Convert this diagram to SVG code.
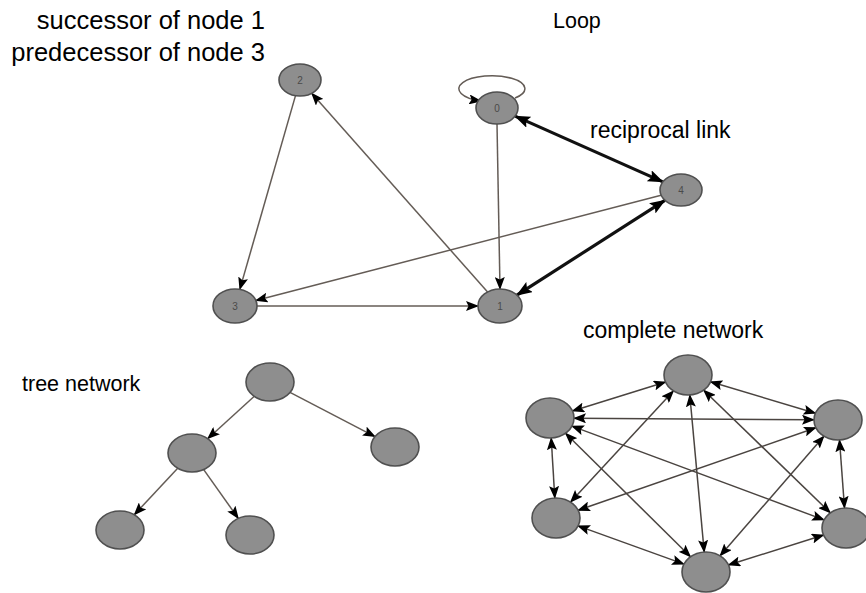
<svg xmlns="http://www.w3.org/2000/svg" width="866" height="593" viewBox="0 0 866 593">
<style>
.lbl{font-family:"Liberation Sans",Arial,sans-serif;font-size:23px;fill:#000}
.big{font-size:25.5px}
.sm{font-size:21.5px}
.nl{font-family:"Liberation Sans",Arial,sans-serif;font-size:10px;fill:#4a4a4a;text-anchor:middle}
.node{fill:#8e8e8e;stroke:#505050;stroke-width:1.6}
.e{stroke:#645c56;stroke-width:1.5;fill:none;marker-end:url(#ah)}
.b{stroke:#4a4440;stroke-width:1.5;fill:none;marker-end:url(#ah);marker-start:url(#ah)}
.t{stroke:#111;stroke-width:3.2;fill:none;marker-end:url(#ahb);marker-start:url(#ahb)}
</style>
<defs>
<marker id="ah" markerUnits="userSpaceOnUse" markerWidth="13" markerHeight="10" refX="12" refY="5" orient="auto-start-reverse" viewBox="0 0 13 10"><path d="M0,0 L13,5 L0,10 L2.5,5 z" fill="#000"/></marker>
<marker id="ahb" markerUnits="userSpaceOnUse" markerWidth="16" markerHeight="12" refX="15" refY="6" orient="auto-start-reverse" viewBox="0 0 16 12"><path d="M0,0 L16,6 L0,12 L3,6 z" fill="#000"/></marker>
</defs>
<rect width="866" height="593" fill="#fff"/>
<g id="labels">
<text class="lbl big" x="265" y="29" text-anchor="end">successor of node 1</text>
<text class="lbl big" x="265" y="61" text-anchor="end">predecessor of node 3</text>
<text class="lbl sm" x="553" y="28">Loop</text>
<text class="lbl" x="590" y="138">reciprocal link</text>
<text class="lbl" x="583" y="338">complete network</text>
<text class="lbl sm" x="22" y="391">tree network</text>
</g>
<g id="connectors">
<path class="e" d="M515,98 A33,13 0 1 0 481,101"/>
<line class="e" x1="295.5" y1="95.6" x2="239.8" y2="289.4"/>
<line class="e" x1="487.6" y1="292" x2="311.7" y2="93.3"/>
<line class="e" x1="497" y1="124" x2="500" y2="289"/>
<line class="e" x1="257" y1="306" x2="478" y2="306"/>
<line class="e" x1="661.1" y1="195.2" x2="255.8" y2="300.6"/>
<line class="t" x1="515.1" y1="116.1" x2="662.9" y2="181.9"/>
<line class="t" x1="516.9" y1="295.1" x2="664.9" y2="200.3"/>
<line class="e" x1="254.3" y1="396.3" x2="207.7" y2="438.7"/>
<line class="e" x1="290" y1="392.4" x2="375" y2="436.6"/>
<line class="e" x1="177.7" y1="468.3" x2="134.3" y2="514.7"/>
<line class="e" x1="203.7" y1="469.6" x2="238.3" y2="518.4"/>
<line class="b" x1="665.6" y1="382" x2="572.4" y2="411"/>
<line class="b" x1="710.5" y1="381.7" x2="815.5" y2="413.3"/>
<line class="b" x1="673.4" y1="390.9" x2="570.6" y2="502.1"/>
<line class="b" x1="703.7" y1="390.2" x2="830.3" y2="512.8"/>
<line class="b" x1="689.8" y1="395" x2="704.2" y2="552"/>
<line class="b" x1="574" y1="418.2" x2="814" y2="419.8"/>
<line class="b" x1="551.2" y1="438" x2="554.8" y2="498"/>
<line class="b" x1="571.9" y1="426.1" x2="824.1" y2="519.9"/>
<line class="b" x1="565.5" y1="433.3" x2="690.5" y2="556.7"/>
<line class="b" x1="815.9" y1="427.7" x2="578.1" y2="510.3"/>
<line class="b" x1="839.5" y1="440" x2="844.5" y2="508"/>
<line class="b" x1="823.9" y1="436.2" x2="720.1" y2="555.8"/>
<line class="b" x1="578" y1="525.9" x2="684" y2="564.1"/>
<line class="b" x1="823.6" y1="535" x2="728.4" y2="565"/>
</g>
<g id="n0"><ellipse class="node" cx="497" cy="108" rx="21" ry="16"/><text class="nl" x="497" y="112">0</text></g>
<g id="n1"><ellipse class="node" cx="500" cy="306" rx="22" ry="17"/><text class="nl" x="500" y="310">1</text></g>
<g id="n2"><ellipse class="node" cx="300" cy="80" rx="21" ry="16"/><text class="nl" x="300" y="84">2</text></g>
<g id="n3"><ellipse class="node" cx="235" cy="306" rx="22" ry="17"/><text class="nl" x="235" y="310">3</text></g>
<g id="n4"><ellipse class="node" cx="681" cy="190" rx="21" ry="16"/><text class="nl" x="681" y="194">4</text></g>
<g id="t0"><ellipse class="node" cx="270" cy="382" rx="24" ry="19"/></g>
<g id="t1"><ellipse class="node" cx="192" cy="453" rx="24" ry="19"/></g>
<g id="t2"><ellipse class="node" cx="395" cy="447" rx="24" ry="19"/></g>
<g id="t3"><ellipse class="node" cx="120" cy="530" rx="24" ry="19"/></g>
<g id="t4"><ellipse class="node" cx="250" cy="535" rx="24" ry="19"/></g>
<g id="c0"><ellipse class="node" cx="688" cy="375" rx="24" ry="20"/></g>
<g id="c1"><ellipse class="node" cx="550" cy="418" rx="24" ry="20"/></g>
<g id="c2"><ellipse class="node" cx="838" cy="420" rx="24" ry="20"/></g>
<g id="c3"><ellipse class="node" cx="556" cy="518" rx="24" ry="20"/></g>
<g id="c4"><ellipse class="node" cx="846" cy="528" rx="24" ry="20"/></g>
<g id="c5"><ellipse class="node" cx="706" cy="572" rx="24" ry="20"/></g>
</svg>
